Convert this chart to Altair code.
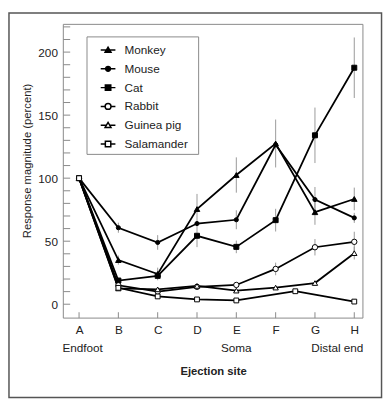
import json
import altair as alt
import pandas as pd

# ---------------- data ----------------
sites = ["A", "B", "C", "D", "E", "F", "G", "H"]
site_pos = [0, 1, 2, 3, 4, 5, 6, 7]
animals = ["Monkey", "Mouse", "Cat", "Rabbit", "Guinea pig", "Salamander"]

monkey_y = [100, 35, 24, 75.5, 102.5, 127.5, 73, 83.5]
monkey_err = [0, 3.6, 5, 12, 14, 19, 10, 9]
mouse_y = [100, 60.7, 49, 64, 67, 126.5, 83, 68.5]
mouse_err = [0, 4, 5.8, 0, 7.5, 0, 10, 4]
cat_y = [100, 18.8, 22.5, 54.3, 45.5, 66.7, 134, 187.6]
cat_err = [0, 0, 0, 9, 5, 9, 22, 24]
rabbit_y = [100, 15, 10, 13.8, 15.3, 28, 45.2, 49.5]
rabbit_err = [0, 0, 0, 0, 0, 5, 6.5, 8]
guinea_y = [100, 12.5, 11.8, 14.5, 10.8, 13.2, 16.8, 40.5]
guinea_err = [0, 0, 0, 0, 0, 0, 0, 5]
salamander_x = [0, 1, 2, 3, 4, 5.5, 7]
salamander_y = [100, 13, 6.2, 3.8, 3.0, 10.3, 2.1]
salamander_err = [0, 0, 0, 0, 0, 0, 0]

notes = ["Endfoot", "Soma", "Distal end"]
note_pos = [0, 4, 7]

y_label_values = [0, 50, 100, 150, 200]
y_tick_values = list(range(0, 230, 10))

# ---------------- table ----------------
rows = []
series = [
    ("Monkey", site_pos, monkey_y, monkey_err),
    ("Mouse", site_pos, mouse_y, mouse_err),
    ("Cat", site_pos, cat_y, cat_err),
    ("Rabbit", site_pos, rabbit_y, rabbit_err),
    ("Guinea pig", site_pos, guinea_y, guinea_err),
    ("Salamander", salamander_x, salamander_y, salamander_err),
]
for name, xs, ys, es in series:
    for xv, yv, ev in zip(xs, ys, es):
        rows.append({"animal": name, "x": xv, "y": yv, "err": ev,
                     "lo": yv - ev, "hi": yv + ev})
df = pd.DataFrame(rows)

FONT = "Liberation Sans"
TXT = "#222222"
GRID = "#888888"

X_SCALE = alt.Scale(domain=[-0.4, 7.22], nice=False, zero=False)
Y_SCALE = alt.Scale(domain=[-11, 222], nice=False, zero=False)

x_axis = alt.Axis(
    values=site_pos,
    labelExpr=f"{json.dumps(sites)}[datum.value]",
    ticks=False, domain=False, grid=False, labelOverlap=False,
    labelPadding=7, labelFontSize=12, labelFont=FONT, labelColor=TXT,
    title="Ejection site", titleFont=FONT, titleFontSize=11.5,
    titleFontWeight="bold", titleColor=TXT, titleY=55, titleBaseline="middle",
)
y_axis = alt.Axis(
    values=y_label_values, format="d",
    ticks=False, domain=False, grid=False, labelOverlap=False,
    labelPadding=6, labelFontSize=12, labelFont=FONT, labelColor=TXT,
    title="Response magnitude (percent)", titleFont=FONT, titleFontSize=11.5,
    titleFontWeight="normal", titleColor=TXT, titleX=-36.5, titleY=139,
    titleBaseline="middle",
)


def X(field):
    return alt.X(field, scale=X_SCALE, axis=x_axis)


def Y(field):
    return alt.Y(field, scale=Y_SCALE, axis=y_axis)


one = pd.DataFrame({"a": [0]})

# outer frame of the figure
outer = alt.Chart(one).mark_rect(fillOpacity=0, stroke="#555555", strokeWidth=1.5).encode(
    x=alt.value(-55.5), x2=alt.value(325), y=alt.value(-11.5), y2=alt.value(381)
)
# plot frame
frame = alt.Chart(one).mark_rect(fillOpacity=0, stroke=GRID, strokeWidth=1).encode(
    x=alt.value(0), x2=alt.value(306), y=alt.value(0), y2=alt.value(300)
)

# inward ticks
yticks = alt.Chart(pd.DataFrame({"v": y_tick_values})).mark_rule(
    color=GRID, strokeWidth=1
).encode(y=Y("v:Q"), x=alt.value(0), x2=alt.value(7))
xticks = alt.Chart(pd.DataFrame({"v": site_pos})).mark_rule(
    color=GRID, strokeWidth=1
).encode(x=X("v:Q"), y=alt.value(300), y2=alt.value(294))

errbars = alt.Chart(df).transform_filter("datum.err > 0").mark_rule(
    color="#999999", strokeWidth=1
).encode(x=X("x:Q"), y=Y("lo:Q"), y2="hi:Q")

lines = alt.Chart(df).mark_line(color="black", strokeWidth=1.8).encode(
    x=X("x:Q"), y=Y("y:Q"), detail="animal:N", order="x:Q",
)

marker_style = {
    "Monkey": ("triangle-up", "black", 32),
    "Mouse": ("circle", "black", 18),
    "Cat": ("square", "black", 26),
    "Rabbit": ("circle", "white", 30),
    "Guinea pig": ("triangle-up", "white", 30),
    "Salamander": ("square", "white", 24),
}
point_layers = []
for name in animals:
    shp, fillc, sz = marker_style[name]
    point_layers.append(
        alt.Chart(df).transform_filter(alt.datum.animal == name).mark_point(
            shape=shp, filled=True, fill=fillc, stroke="black", strokeWidth=1,
            size=sz, opacity=1,
        ).encode(x=X("x:Q"), y=Y("y:Q"))
    )

# legend frame
legend_box = alt.Chart(one).mark_rect(fillOpacity=0, stroke=GRID, strokeWidth=1).encode(
    x=alt.value(24.2), x2=alt.value(138.2), y=alt.value(12.8), y2=alt.value(132.8)
)

legend_paths_filled = [
    "M-1,0H1M-0.4,0.3L0,-0.38L0.4,0.3Z",
    "M-1,0H1M-0.33,0A0.33,0.33,0,1,0,0.33,0A0.33,0.33,0,1,0,-0.33,0Z",
    "M-1,0H1M-0.37,-0.37H0.37V0.37H-0.37Z",
]
legend_paths_open = [
    "M-1,0H-0.4M0.4,0H1M-0.4,0A0.4,0.4,0,1,0,0.4,0A0.4,0.4,0,1,0,-0.4,0Z",
    "M-1,0H-0.22M0.22,0H1M-0.4,0.3L0,-0.38L0.4,0.3Z",
    "M-1,0H-0.37M0.37,0H1M-0.37,-0.37H0.37V0.37H-0.37Z",
]


def legend_layer(names, paths, fillc, ly):
    leg = alt.Legend(
        orient="none", legendX=37.2, legendY=ly, title=None, padding=0,
        symbolSize=225, symbolStrokeWidth=1.5, symbolOffset=0,
        labelFont=FONT, labelFontSize=12, labelColor=TXT, labelOffset=8.3,
        rowPadding=4.2, labelLimit=200,
    )
    return alt.Chart(pd.DataFrame({"animal": names})).transform_filter("false").mark_point(
        filled=True, fill=fillc, stroke="black", strokeWidth=1.5, opacity=1
    ).encode(
        shape=alt.Shape("animal:N", scale=alt.Scale(domain=names, range=paths), legend=leg)
    )


leg_a = legend_layer(animals[:3], legend_paths_filled, "black", 17.7)
leg_b = legend_layer(animals[3:], legend_paths_open, "white", 17.7 + 3 * 19.2)

notes_df = pd.DataFrame({"note": notes, "x": note_pos})
note_cfg = {"Endfoot": ("left", -17), "Soma": ("center", 0), "Distal end": ("right", 9.3)}
note_layers = []
for n in notes:
    al, dxv = note_cfg[n]
    note_layers.append(
        alt.Chart(notes_df).transform_filter(alt.datum.note == n).mark_text(
            align=al, dx=dxv, baseline="middle", font=FONT, fontSize=12, color=TXT
        ).encode(x=X("x:Q"), y=alt.value(330.5), text="note:N")
    )

chart = alt.layer(
    outer, frame, yticks, xticks, errbars, lines, *point_layers, legend_box, leg_a, leg_b,
    *note_layers,
).resolve_scale(shape="independent").properties(
    width=306, height=300,
    autosize=alt.AutoSizeParams(type="none"),
    padding={"left": 56.5, "top": 12.5, "right": 20.5, "bottom": 82.5},
).configure_view(strokeWidth=0)

chart.save("out.html", embed_options={"renderer": "svg", "actions": False})
